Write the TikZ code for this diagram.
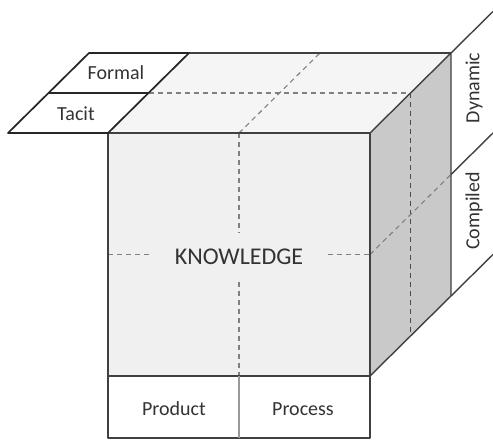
\documentclass[tikz,border=0pt]{standalone}
\usepackage{fontspec}
\setmainfont{Carlito}
\usetikzlibrary{calc}
\begin{document}
\begin{tikzpicture}[x=1pt,y=-1pt,
    edge/.style={draw=black!75, line width=1.4pt, line join=round},
    hidden/.style={draw=gray, line width=1.1pt, dash pattern=on 5pt off 4pt},
    lbl/.style={text=black!80, font=\fontsize{20}{24}\selectfont}]
    \useasboundingbox (0,0) rectangle (493,441);
    \clip (0,0) rectangle (493,441);
    % Corners of the cube
    \coordinate (ftl) at (108,133);
    \coordinate (ftr) at (370,133);
    \coordinate (fbr) at (370,376);
    \coordinate (fbl) at (108,376);
    \coordinate (btl) at (189,53);
    \coordinate (btr) at (451,53);
    \coordinate (bbr) at (451,296);

    % Faces
    \fill[gray!8] (ftl) -- (btl) -- (btr) -- (ftr) -- cycle;
    \fill[gray!42] (ftr) -- (btr) -- (bbr) -- (fbr) -- cycle;
    \fill[gray!12] (ftl) rectangle (fbr);

    % Dashed divisions
    \draw[hidden] ($(ftl)!0.5!(ftr)$) -- ($(btl)!0.5!(btr)$);
    \draw[hidden] ($(ftl)!0.5!(btl)$) -- ($(ftr)!0.5!(btr)$);
    \draw[hidden, draw=black!70] ($(ftr)!0.5!(btr)$) -- ($(fbr)!0.5!(bbr)$);
    \draw[hidden] ($(ftr)!0.5!(fbr)$) -- ($(btr)!0.5!(bbr)$);
    \node[lbl, font=\fontsize{24}{28}\selectfont, fill=gray!12, minimum width=178pt, minimum height=49pt] (know) at (239,257) {KNOWLEDGE};
    \draw[hidden] ($(ftl)!0.5!(fbl)$) -- (know.west |- 0,254.5);
    \draw[hidden] (know.east |- 0,254.5) -- ($(ftr)!0.5!(fbr)$);
    \draw[hidden] ($(ftl)!0.5!(ftr)$) -- (know.north -| 239,0);
    \draw[hidden] (know.south -| 239,0) -- ($(fbl)!0.5!(fbr)$);

    % Cube edges
    \draw[edge] (ftl) rectangle (fbr);
    \draw[edge] (ftr) -- (btr) -- (bbr) -- (fbr);
    \draw[edge] (btl) -- (btr);

    % Formal / Tacit strip
    \draw[edge, draw=black!85, line width=1.7pt] (ftl) -- (8,133) -- (89,53) -- (btl) -- cycle;
    \draw[edge, draw=black!85] (48.5,93) -- (148.5,93);
    \node[lbl] (formal) at (116,73) {Formal};
    \node[lbl] (tacit) at (76,114) {Tacit};

    % Dynamic / Compiled strip
    \draw[edge] (btr) -- +(50,-49.4);
    \draw[edge] ($(btr)!0.5!(bbr)$) -- +(50,-49.4);
    \draw[edge] (bbr) -- +(50,-49.4);
    \node[lbl, rotate=90] (dynamic) at (474,88) {Dynamic};
    \node[lbl, rotate=90] (compiled) at (474,211) {Compiled};

    % Product / Process box
    \draw[edge, fill=white] (fbl) rectangle (370,438);
    \draw[edge, draw=gray!80] (239,376) -- (239,438);
    \node[lbl] (product) at (174,409) {Product};
    \node[lbl] (process) at (303,409) {Process};
\end{tikzpicture}
\end{document}
